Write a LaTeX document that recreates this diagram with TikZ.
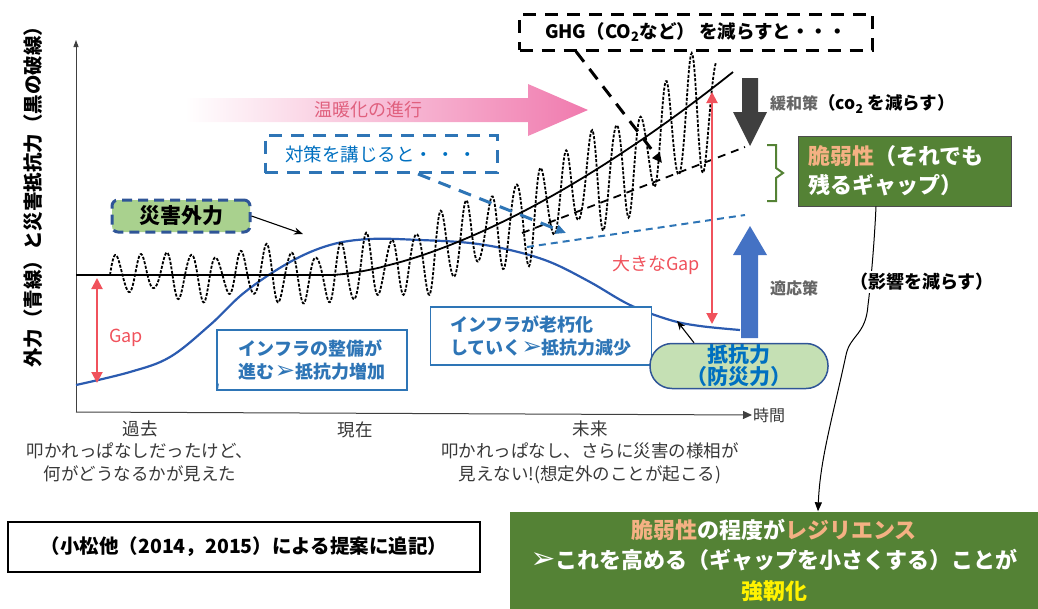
\documentclass[tikz,border=0pt]{standalone}
\usepackage{fontspec}
\setmainfont{Noto Sans CJK JP}
\newfontfamily\dejavu{DejaVu Sans}
\usetikzlibrary{arrows.meta}
\definecolor{blueT}{HTML}{0070C0}
\definecolor{blueL}{HTML}{2E75B6}
\definecolor{blueC}{HTML}{2B5BB0}
\definecolor{navy}{HTML}{2F5597}
\definecolor{redA}{HTML}{F0525C}
\definecolor{greyA}{HTML}{3F3F3F}
\definecolor{blueA}{HTML}{4472C4}
\definecolor{pinkA}{HTML}{F07AAE}
\definecolor{pinkT}{HTML}{E0607E}
\definecolor{lgreen}{HTML}{A9D18E}
\definecolor{lgreenB}{HTML}{C5E0B4}
\definecolor{dgreen}{HTML}{548235}
\definecolor{peach}{HTML}{F4B183}
\definecolor{txtgrey}{HTML}{383838}
\newcommand\fsz[2]{\fontsize{#1}{#2}\selectfont}
\newcommand\arrbullet{{\dejavu\scalebox{1.35}{➢}}}
\tikzset{
  declare function={
    cy(\t)=275-203*pow(max(\t-330,0.01)/403,1.58);
    wamp(\t)=(24+44*pow(max(\t-110,0.01)/606,1.5))*(0.8+0.18*sin(11*\t)+0.12*sin(4.3*\t));
    woff(\t)=22*pow(max(\t-330,0.01)/403,2);
  },
  axisline/.style={draw=black!75, line width=1pt},
  wave/.style={black, line width=1.8pt, dash pattern=on 3pt off 1.6pt},
  blkline/.style={black, line width=1.8pt},
  bluecurve/.style={blueC, line width=2.2pt},
  redarr/.style={redA, line width=2pt, {Triangle[length=11pt,width=11pt]}-{Triangle[length=11pt,width=11pt]}},
  infobox/.style={draw=blueL, line width=1.3pt, fill=white, text=blueL, align=left, font=\fsz{18}{23}\bfseries, inner xsep=12pt},
  axtext/.style={text=txtgrey, align=center, font=\fsz{17.5}{22.5}},
  callout/.style={-{Stealth[length=9pt,width=7pt]}, line width=1.1pt, black},
}
\begin{document}
\begin{tikzpicture}[x=1pt,y=-1pt]
\useasboundingbox (0,0) rectangle (1038,608);

% pink warming arrow
\shade[left color=white, middle color=pinkA!55, right color=pinkA] (185,98) -- (528,98) -- (528,84) -- (588,110) -- (528,136) -- (528,122) -- (185,122) -- cycle;
\node[text=pinkT, font=\fsz{18}{22}] (ondan) at (368,110) {温暖化の進行};

% axes
\coordinate (o) at (76,412);
\coordinate (ytop) at (76,40);
\node[anchor=west, text=txtgrey, font=\fsz{16}{20}, inner sep=1pt] (jikan) at (752,415) {時間};
\draw[axisline, -{Triangle[length=7pt,width=5pt]}] (o) -- (ytop);
\draw[axisline, -{Triangle[length=9pt,width=8pt]}] (o) -- (jikan.west);

% y label
\node[rotate=90, font=\fsz{19.5}{22}\bfseries] (ylab) at (33,192) {外力（青線）と災害抵抗力（黒の破線）};

% blue resistance curve
\draw[bluecurve] plot[smooth, tension=0.6] coordinates {(76,385) (130,372) (170,357) (210,325) (245,292) (290,262) (330,245) (370,239) (420,240) (470,243) (510,250) (550,262) (590,282) (630,305) (670,320) (700,326) (740,330)};

% wave of external force
\draw[wave] plot[domain=110:716, samples=701, variable=\x] (\x,{cy(\x)+woff(\x)-wamp(\x)*sin((\x-110)*14.4)});

% black trend line
\draw[blkline] plot[domain=76:733, samples=150, variable=\x] (\x,{cy(\x)});

% mitigated / adapted dashed lines
\coordinate (m1) at (522,233); \coordinate (m2) at (745,147);
\draw[black, line width=1.8pt, dash pattern=on 8pt off 6pt] (m1) -- (m2);
\coordinate (a1) at (527,247); \coordinate (a2) at (745,215);
\draw[blueL, line width=2pt, dash pattern=on 7pt off 5pt] (a1) -- (a2);

% GHG box
\node[draw=black, line width=3pt, dash pattern=on 13pt off 9pt, minimum width=353pt, minimum height=36pt, font=\fsz{18.5}{22}\bfseries, inner sep=0pt] (ghg) at (696,32) {GHG（CO\textsubscript{2}など） を減らすと・・・};
\coordinate (ghgtip) at (662,163);
\draw[black, line width=3pt, dash pattern=on 13pt off 9pt, -{Triangle[length=10pt,width=9pt]}] ([xshift=-120pt]ghg.south) -- (ghgtip);

% countermeasure box
\node[draw=blueL, line width=3pt, dash pattern=on 13pt off 9pt, minimum width=232pt, minimum height=37pt, text=blueT, font=\fsz{18.5}{22}, inner sep=0pt] (taisaku) at (381,154) {対策を講じると・\,・\,・};
\coordinate (taitip) at (566,233);
\draw[blueL, line width=3pt, dash pattern=on 13pt off 9pt, -{Triangle[length=10pt,width=9pt]}] ([xshift=37pt]taisaku.south) -- (taitip);

% external force label
\node[draw=navy, fill=lgreen, line width=3pt, dash pattern=on 10pt off 6pt, rounded corners=6pt, minimum width=138pt, minimum height=32pt, font=\fsz{21}{24}\bfseries, inner sep=0pt] (gairyoku) at (181,216) {災害外力};
\coordinate (gairtip) at (303,234);
\draw[callout] (gairyoku.east) -- (gairtip);

% Gap arrows
\coordinate (g1) at (97,278); \coordinate (g2) at (97,383);
\draw[redarr] (g1) -- (g2);
\node[text=redA, font=\fsz{18}{20}] (gap) at (126,338) {Gap};
\coordinate (bg1) at (712,92); \coordinate (bg2) at (712,324);
\draw[redarr] (bg1) -- (bg2);
\node[text=redA, font=\fsz{18}{20}, fill=white, inner sep=1pt] (biggap) at (656,265) {大きなGap};

% mitigation (grey) and adaptation (blue) block arrows
\fill[greyA] (742,78) -- (758,78) -- (758,112) -- (767,112) -- (750,146) -- (733,112) -- (742,112) -- cycle;
\fill[blueA] (741,338) -- (758,338) -- (758,255) -- (767,255) -- (750,226) -- (733,255) -- (741,255) -- cycle;
\node[anchor=west, font=\fsz{17.5}{20}\bfseries, inner sep=0pt] (kanwa) at (770,104) {\textcolor{black!60}{\fsz{16}{20}緩和策}（co\textsubscript{2} を減らす）};
\node[anchor=west, text=black!60, font=\fsz{16}{20}\bfseries, inner sep=0pt] (tekiou) at (770,288) {適応策};

% green bracket
\draw[dgreen, line width=2pt] (767,145) -- (776,145) -- (776,168) -- (783,173) -- (776,178) -- (776,201) -- (767,201);

% vulnerability box
\node[draw=black!70, fill=dgreen, line width=1pt, minimum width=213pt, minimum height=70pt, text=white, align=left, font=\fsz{22}{29}\bfseries, inner sep=0pt, text width=194pt] (zeijaku) at (905,171) {\textcolor{peach}{脆弱性}（それでも\\残るギャップ）};

% final result box
\node[fill=dgreen, minimum width=528pt, minimum height=97pt, text=white, align=center, font=\fsz{22}{30.5}\bfseries, inner sep=0pt] (kekka) at (774,560) {\textcolor{peach}{脆弱性}の程度が\textcolor{peach}{レジリエンス}\\\arrbullet これを高める（ギャップを小さくする）ことが\\\textcolor{yellow}{強靭化}};

% curved arrow from vulnerability box to result
\draw[black, line width=1pt, -{Triangle[length=9pt,width=7pt]}] ([xshift=-29pt]zeijaku.south) .. controls (874,250) and (870,290) .. (868,305) .. controls (866,335) and (850,335) .. (846,355) .. controls (832,420) and (820,460) .. ([xshift=44pt]kekka.north);
\node[fill=white, font=\fsz{18}{20}\bfseries, inner sep=2pt] (eikyo) at (922,282) {（影響を減らす）};

% infrastructure boxes
\node[infobox, minimum width=190pt, minimum height=60pt] (inf1) at (312,360) {インフラの整備が\\進む\arrbullet 抵抗力増加};
\draw[blueL, line width=1pt] (inf1.south west) ++(1pt,0) -- ++(1pt,7pt);
\node[infobox, minimum width=221pt, minimum height=58pt] (inf2) at (541,336) {インフラが老朽化\\していく\arrbullet 抵抗力減少};

% resistance label
\node[draw=navy, fill=lgreenB, line width=1.5pt, rounded corners=22pt, minimum width=178pt, minimum height=45pt, text=blueT, align=center, font=\fsz{21}{22}\bfseries, inner sep=0pt] (teikou) at (739,366) {抵抗力\\（防災力）};
\coordinate (teitip) at (677,321);
\draw[callout] ([xshift=-45pt]teikou.north) -- (teitip);

% time labels
\node[axtext] (kako) at (140,451) {過去\\叩かれっぱなしだったけど、\\何がどうなるかが見えた};
\node[axtext] (genzai) at (355,430) {現在};
\node[axtext] (mirai) at (590,452) {未来\\叩かれっぱなし、さらに災害の様相が\\見えない!(想定外のことが起こる)};

% reference box
\node[draw=black, line width=2pt, minimum width=472pt, minimum height=50pt, font=\fsz{19.5}{22}\bfseries, inner sep=0pt] (ref) at (244,547) {（小松他（2014，2015）による提案に追記）};
\end{tikzpicture}
\end{document}
